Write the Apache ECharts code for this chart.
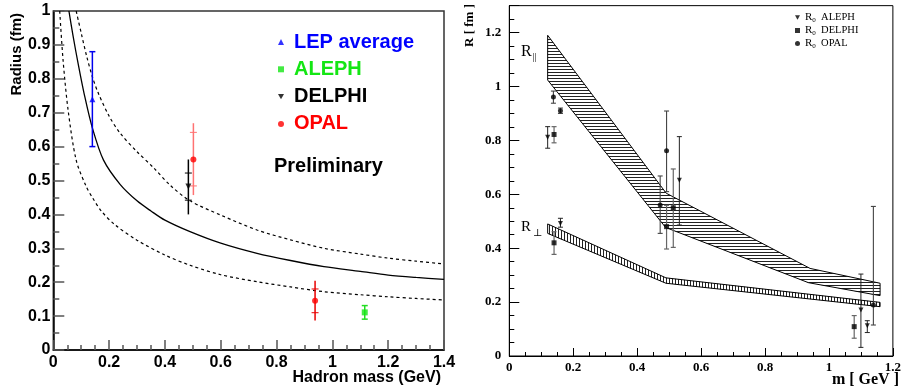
<!DOCTYPE html>
<html><head><meta charset="utf-8">
<script src="https://cdn.jsdelivr.net/npm/echarts@6/dist/echarts.min.js"></script>
<style>html,body{margin:0;padding:0;background:#fff}#c{width:904px;height:391px}</style>
</head><body><div id="c"></div>
<script>
// ---------- LEFT PANEL DATA ----------
const solidMass   = [0.056,0.07,0.09,0.11,0.14,0.18,0.24,0.30,0.35,0.40,0.49,0.60,0.73,0.85,0.97,1.10,1.20,1.30,1.40];
const solidRadius = [1.0,0.93,0.84,0.758,0.655,0.56,0.488,0.44,0.41,0.383,0.349,0.315,0.285,0.264,0.246,0.232,0.221,0.214,0.2085];
const upperMass   = [0.082,0.10,0.12,0.14,0.16,0.20,0.24,0.30,0.36,0.42,0.49,0.60,0.73,0.85,0.97,1.10,1.20,1.30,1.40];
const upperRadius = [1.0,0.935,0.865,0.806,0.76,0.69,0.639,0.585,0.537,0.485,0.44,0.398,0.354,0.325,0.30,0.283,0.271,0.262,0.254];
const lowerMass   = [0.023,0.035,0.053,0.082,0.118,0.14,0.172,0.22,0.30,0.40,0.49,0.60,0.73,0.85,0.97,1.10,1.20,1.30,1.40];
const lowerRadius = [1.0,0.855,0.708,0.56,0.482,0.45,0.41,0.37,0.324,0.28,0.25,0.222,0.2015,0.186,0.172,0.163,0.157,0.152,0.1475];

const lepMass = [0.14],  lepRadius = [0.74],  lepLow = [0.60],  lepHigh = [0.88];
const alephMass = [1.116], alephRadius = [0.111], alephLow = [0.091], alephHigh = [0.131];
const delphiMass = [0.484], delphiRadius = [0.482], delphiStatLow = [0.442], delphiStatHigh = [0.522], delphiLow = [0.40], delphiHigh = [0.562];
const opalMass = [0.502, 0.938], opalRadius = [0.562, 0.145], opalStatLow = [0.484, 0.11], opalStatHigh = [0.642, 0.18], opalLow = [0.457, 0.087], opalHigh = [0.669, 0.204];
const leftLegendNames = ['LEP average', 'ALEPH', 'DELPHI', 'OPAL'];

// ---------- RIGHT PANEL DATA ----------
const r0AlephMass = [0.12, 0.16, 0.532, 1.10, 1.12];
const r0AlephR    = [0.812, 0.492, 0.652, 0.171, 0.112];
const r0AlephLow  = [0.771, 0.478, 0.486, 0.032, 0.087];
const r0AlephHigh = [0.851, 0.511, 0.814, 0.304, 0.131];
const r0DelphiMass = [0.14, 0.14, 0.492, 0.513, 1.079];
const r0DelphiR    = [0.822, 0.42, 0.48, 0.55, 0.109];
const r0DelphiLow  = [0.791, 0.377, 0.397, 0.403, 0.066];
const r0DelphiHigh = [0.851, 0.461, 0.559, 0.694, 0.15];
const r0OpalMass = [0.138, 0.16, 0.472, 0.492, 1.139];
const r0OpalR    = [0.961, 0.91, 0.56, 0.762, 0.189];
const r0OpalLow  = [0.938, 0.90, 0.455, 0.61, 0.115];
const r0OpalHigh = [0.983, 0.92, 0.668, 0.909, 0.555];
const rightLegendNames = ['R0 ALEPH', 'R0 DELPHI', 'R0 OPAL'];

const rParUpperMass = [0.12, 0.491, 0.941, 1.16], rParUpperR = [1.19, 0.604, 0.325, 0.27];
const rParLowerMass = [0.12, 0.489, 0.936, 1.16], rParLowerR = [1.024, 0.477, 0.272, 0.224];
const rPerpUpperMass = [0.12, 0.49, 1.16], rPerpUpperR = [0.49, 0.29, 0.199];
const rPerpLowerMass = [0.12, 0.49, 1.16], rPerpLowerR = [0.455, 0.27, 0.183];

// ---------- styles ----------
const SANS = '"Liberation Sans", Arial, sans-serif';
const SERIF = '"Liberation Serif", "Times New Roman", "DejaVu Serif", serif';
const downTri = 'path://M0,0L10,0L5,9Z';
const opalBarColors = ['#ff7272', '#e80000'];

function zip(a, b) { return a.map((v, i) => [v, b[i]]); }

function hatch(horizontal) {
  const c = document.createElement('canvas'); c.width = 3; c.height = 3;
  const g = c.getContext('2d');
  g.fillStyle = '#fff'; g.fillRect(0, 0, 3, 3);
  g.fillStyle = '#222';
  if (horizontal) g.fillRect(0, 0, 3, 1); else g.fillRect(0, 0, 1, 3);
  return c;
}

function bandRender(upM, upR, loM, loR, pat) {
  return function (params, api) {
    const pts = [];
    for (let i = 0; i < upM.length; i++) pts.push(api.coord([upM[i], upR[i]]));
    for (let i = loM.length - 1; i >= 0; i--) pts.push(api.coord([loM[i], loR[i]]));
    return { type: 'polygon', shape: { points: pts },
      style: { fill: { image: pat, repeat: 'repeat' }, stroke: '#000', lineWidth: 1 } };
  };
}

function errRender(mass, low, high, statLow, statHigh, colorFn, capHalf, tickHalf, width) {
  return function (params, api) {
    const i = params.dataIndex;
    const c = colorFn(i);
    const t = api.coord([mass[i], high[i]]), b = api.coord([mass[i], low[i]]);
    const x = t[0];
    const ch = [{ type: 'line', shape: { x1: x, y1: t[1], x2: x, y2: b[1] }, style: { stroke: c, lineWidth: width } }];
    if (capHalf) {
      ch.push({ type: 'line', shape: { x1: x - capHalf, y1: t[1], x2: x + capHalf, y2: t[1] }, style: { stroke: c, lineWidth: width } });
      ch.push({ type: 'line', shape: { x1: x - capHalf, y1: b[1], x2: x + capHalf, y2: b[1] }, style: { stroke: c, lineWidth: width } });
    }
    if (statLow) {
      const s1 = api.coord([mass[i], statHigh[i]]), s2 = api.coord([mass[i], statLow[i]]);
      ch.push({ type: 'line', shape: { x1: x - tickHalf, y1: s1[1], x2: x + tickHalf, y2: s1[1] }, style: { stroke: c, lineWidth: 1 } });
      ch.push({ type: 'line', shape: { x1: x - tickHalf, y1: s2[1], x2: x + tickHalf, y2: s2[1] }, style: { stroke: c, lineWidth: 1 } });
    }
    return { type: 'group', children: ch };
  };
}

const tickStyle = { color: '#555', width: 1.5 };
function leftAxisLabel(margin) {
  return { margin: margin, fontFamily: SANS, fontWeight: 'bold', fontSize: 16, color: '#000' };
}
function rightAxisLabel(margin) {
  return { margin: margin, fontFamily: SERIF, fontWeight: 'bold', fontSize: 13, color: '#000' };
}

const chart = echarts.init(document.getElementById('c'), null, { renderer: 'canvas' });
const option = {
  animation: false,
  backgroundColor: '#fff',
  grid: [
    { left: 53.3, top: 11, width: 390.7, height: 339, show: true, borderColor: '#333', borderWidth: 1.5 },
    { left: 509.3, top: 5.65, width: 390, height: 350.35, show: true, borderColor: '#000', borderWidth: 1 }
  ],
  xAxis: [
    { gridIndex: 0, type: 'value', min: 0, max: 1.4, interval: 0.2,
      axisLine: { onZero: false, lineStyle: { color: '#000', width: 1.5 } },
      axisTick: { inside: true, length: 10, lineStyle: tickStyle },
      minorTick: { show: true, splitNumber: 4, length: 5, lineStyle: tickStyle },
      splitLine: { show: false }, minorSplitLine: { show: false },
      axisLabel: leftAxisLabel(5) },
    { gridIndex: 1, type: 'value', min: 0, max: 1.2, interval: 0.2,
      axisLine: { onZero: false, lineStyle: { color: '#000', width: 1 } },
      axisTick: { inside: true, length: 8, lineStyle: { color: '#000', width: 1 } },
      minorTick: { show: true, splitNumber: 4, length: 4, lineStyle: { color: '#000', width: 1 } },
      splitLine: { show: false }, minorSplitLine: { show: false },
      axisLabel: rightAxisLabel(5) }
  ],
  yAxis: [
    { gridIndex: 0, type: 'value', min: 0, max: 1, interval: 0.1,
      axisLine: { onZero: false, lineStyle: { color: '#000', width: 1.5 } },
      axisTick: { inside: true, length: 11, lineStyle: tickStyle },
      minorTick: { show: true, splitNumber: 2, length: 6, lineStyle: tickStyle },
      splitLine: { show: false }, minorSplitLine: { show: false },
      axisLabel: leftAxisLabel(3) },
    { gridIndex: 1, type: 'value', min: 0, max: 1.3, interval: 0.2, position: 'left',
      axisLine: { onZero: false, lineStyle: { color: '#000', width: 1 } },
      axisTick: { inside: true, length: 10, lineStyle: { color: '#000', width: 1 } },
      splitLine: { show: false },
      axisLabel: Object.assign(rightAxisLabel(8), { formatter: v => (v > 1.25 ? '' : String(v)) }) },
    { gridIndex: 1, type: 'value', min: 0, max: 1.3, interval: 0.05, position: 'left',
      axisLine: { show: false }, axisLabel: { show: false }, splitLine: { show: false },
      axisTick: { inside: true, length: 5, lineStyle: { color: '#000', width: 1 } } }
  ],
  legend: [
    { orient: 'vertical', left: 273, top: 27, itemWidth: 6, itemHeight: 6, itemGap: 7.3,
      selectedMode: false,
      textStyle: { fontFamily: SANS, fontWeight: 'bold', fontSize: 20, lineHeight: 20, padding: [0, 0, 0, 5] },
      data: [
        { name: leftLegendNames[0], textStyle: { color: '#0000ff' } },
        { name: leftLegendNames[1], textStyle: { color: '#14e614' } },
        { name: leftLegendNames[2], textStyle: { color: '#000' } },
        { name: leftLegendNames[3], textStyle: { color: '#ff0000' } }
      ] },
    { orient: 'vertical', left: 790, top: 7, itemWidth: 5, itemHeight: 5, itemGap: 1.5,
      selectedMode: false,
      data: rightLegendNames,
      formatter: n => '{r|R}{s|0}{t|  ' + n.split(' ')[1] + '}',
      textStyle: { rich: {
        r: { fontFamily: SERIF, fontSize: 11, color: '#000', lineHeight: 12 },
        s: { fontFamily: SERIF, fontSize: 7, color: '#000', lineHeight: 7, verticalAlign: 'bottom' },
        t: { fontFamily: SERIF, fontSize: 10.5, color: '#000', lineHeight: 12 }
      } } }
  ],
  graphic: [
    { type: 'text', x: 17, y: 13, rotation: Math.PI / 2,
      style: { text: 'Radius (fm)', font: 'bold 15px ' + SANS, fill: '#000', align: 'right', verticalAlign: 'middle', textAlign: 'right', textVerticalAlign: 'middle' } },
    { type: 'text', x: 441, y: 378,
      style: { text: 'Hadron mass (GeV)', font: 'bold 16px ' + SANS, fill: '#000', align: 'right', verticalAlign: 'middle', textAlign: 'right', textVerticalAlign: 'middle' } },
    { type: 'text', x: 274, y: 166,
      style: { text: 'Preliminary', font: 'bold 20px ' + SANS, fill: '#000', align: 'left', verticalAlign: 'middle', textAlign: 'left', textVerticalAlign: 'middle' } },
    { type: 'text', x: 470, y: 4, rotation: Math.PI / 2,
      style: { text: 'R [ fm ]', font: 'bold 13px ' + SERIF, fill: '#000', align: 'right', verticalAlign: 'middle', textAlign: 'right', textVerticalAlign: 'middle' } },
    { type: 'text', x: 899, y: 380,
      style: { text: 'm [ GeV ]', font: 'bold 16px ' + SERIF, fill: '#000', align: 'right', verticalAlign: 'middle', textAlign: 'right', textVerticalAlign: 'middle' } },
    { type: 'text', x: 521, y: 52,
      style: { text: 'R', font: '16px ' + SERIF, fill: '#000', align: 'left', verticalAlign: 'middle', textAlign: 'left', textVerticalAlign: 'middle' } },
    { type: 'text', x: 532.5, y: 57,
      style: { text: '||', font: '10px ' + SERIF, fill: '#000', align: 'left', verticalAlign: 'middle', textAlign: 'left', textVerticalAlign: 'middle' } },
    { type: 'text', x: 521, y: 227,
      style: { text: 'R', font: '15px ' + SERIF, fill: '#000', align: 'left', verticalAlign: 'middle', textAlign: 'left', textVerticalAlign: 'middle' } },
    { type: 'text', x: 533, y: 233,
      style: { text: '⊥', font: '10px "DejaVu Serif", serif', fill: '#000', align: 'left', verticalAlign: 'middle', textAlign: 'left', textVerticalAlign: 'middle' } }
  ],
  series: [
    // left curves
    { type: 'line', xAxisIndex: 0, yAxisIndex: 0, data: zip(solidMass, solidRadius), showSymbol: false, smooth: 0.3,
      lineStyle: { color: '#000', width: 1.3 }, silent: true, z: 2 },
    { type: 'line', xAxisIndex: 0, yAxisIndex: 0, data: zip(upperMass, upperRadius), showSymbol: false, smooth: 0.3,
      lineStyle: { color: '#000', width: 1.2, type: [3, 3] }, silent: true, z: 2 },
    { type: 'line', xAxisIndex: 0, yAxisIndex: 0, data: zip(lowerMass, lowerRadius), showSymbol: false, smooth: 0.3,
      lineStyle: { color: '#000', width: 1.2, type: [3, 3] }, silent: true, z: 2 },
    // left error bars
    { type: 'custom', xAxisIndex: 0, yAxisIndex: 0, data: zip(lepMass, lepRadius), z: 3,
      renderItem: errRender(lepMass, lepLow, lepHigh, null, null, () => '#0000ee', 3, 0, 1.5) },
    { type: 'custom', xAxisIndex: 0, yAxisIndex: 0, data: zip(alephMass, alephRadius), z: 3,
      renderItem: errRender(alephMass, alephLow, alephHigh, null, null, () => '#22dd22', 3, 0, 1.5) },
    { type: 'custom', xAxisIndex: 0, yAxisIndex: 0, data: zip(delphiMass, delphiRadius), z: 3,
      renderItem: errRender(delphiMass, delphiLow, delphiHigh, delphiStatLow, delphiStatHigh, () => '#000', 0, 3.5, 1.5) },
    { type: 'custom', xAxisIndex: 0, yAxisIndex: 0, data: zip(opalMass, opalRadius), z: 3,
      renderItem: errRender(opalMass, opalLow, opalHigh, opalStatLow, opalStatHigh, i => opalBarColors[i], 0, 3.5, 1.5) },
    // left markers
    { name: leftLegendNames[0], type: 'scatter', xAxisIndex: 0, yAxisIndex: 0, data: zip(lepMass, lepRadius),
      symbol: 'triangle', symbolSize: 6, itemStyle: { color: '#0000ff' }, z: 4 },
    { name: leftLegendNames[1], type: 'scatter', xAxisIndex: 0, yAxisIndex: 0, data: zip(alephMass, alephRadius),
      symbol: 'rect', symbolSize: 6, itemStyle: { color: '#14e614' }, z: 4 },
    { name: leftLegendNames[2], type: 'scatter', xAxisIndex: 0, yAxisIndex: 0, data: zip(delphiMass, delphiRadius),
      symbol: downTri, symbolSize: 6, itemStyle: { color: '#000' }, z: 4 },
    { name: leftLegendNames[3], type: 'scatter', xAxisIndex: 0, yAxisIndex: 0, data: zip(opalMass, opalRadius),
      symbol: 'circle', symbolSize: 6, itemStyle: { color: '#ff0000' }, z: 4 },
    // right bands
    { type: 'custom', xAxisIndex: 1, yAxisIndex: 1, data: [[0.5, 0.5]], z: 2, silent: true,
      renderItem: bandRender(rParUpperMass, rParUpperR, rParLowerMass, rParLowerR, hatch(true)) },
    { type: 'custom', xAxisIndex: 1, yAxisIndex: 1, data: [[0.5, 0.3]], z: 2, silent: true,
      renderItem: bandRender(rPerpUpperMass, rPerpUpperR, rPerpLowerMass, rPerpLowerR, hatch(false)) },
    // right error bars
    { type: 'custom', xAxisIndex: 1, yAxisIndex: 1, data: zip(r0AlephMass, r0AlephR), z: 3,
      renderItem: errRender(r0AlephMass, r0AlephLow, r0AlephHigh, null, null, () => '#222', 2.5, 0, 1) },
    { type: 'custom', xAxisIndex: 1, yAxisIndex: 1, data: zip(r0DelphiMass, r0DelphiR), z: 3,
      renderItem: errRender(r0DelphiMass, r0DelphiLow, r0DelphiHigh, null, null, () => '#666', 2.5, 0, 1.2) },
    { type: 'custom', xAxisIndex: 1, yAxisIndex: 1, data: zip(r0OpalMass, r0OpalR), z: 3,
      renderItem: errRender(r0OpalMass, r0OpalLow, r0OpalHigh, null, null, () => '#444', 2.5, 0, 1.1) },
    // right markers
    { name: rightLegendNames[0], type: 'scatter', xAxisIndex: 1, yAxisIndex: 1, data: zip(r0AlephMass, r0AlephR),
      symbol: downTri, symbolSize: 5, itemStyle: { color: '#000' }, z: 4 },
    { name: rightLegendNames[1], type: 'scatter', xAxisIndex: 1, yAxisIndex: 1, data: zip(r0DelphiMass, r0DelphiR),
      symbol: 'rect', symbolSize: 5, itemStyle: { color: '#000' }, z: 4 },
    { name: rightLegendNames[2], type: 'scatter', xAxisIndex: 1, yAxisIndex: 1, data: zip(r0OpalMass, r0OpalR),
      symbol: 'circle', symbolSize: 5, itemStyle: { color: '#000' }, z: 4 }
  ]
};
chart.setOption(option);
</script></body></html>
